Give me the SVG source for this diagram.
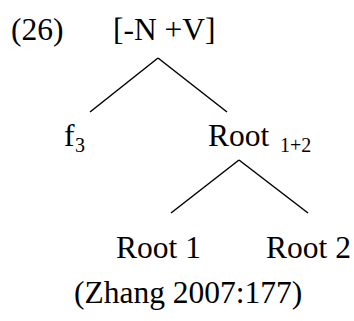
<svg xmlns="http://www.w3.org/2000/svg" width="354" height="321" viewBox="0 0 354 321">
<style>
text{font-family:"Liberation Serif","Times New Roman",serif;font-size:31.5px;fill:#000}
.sub{font-size:20px}
.edge{stroke:#000;stroke-width:1.5;fill:none}
</style>
<rect width="354" height="321" fill="#fff"/>
<g id="label26"><text x="11" y="40">(26)</text></g>
<g id="n-root"><text x="113" y="40">[-N +V]</text></g>
<g id="n-f3"><text x="64" y="146">f</text><text class="sub" x="75" y="152">3</text></g>
<g id="n-root12"><text x="208" y="146">Root</text><text class="sub" x="280" y="152">1+2</text></g>
<g id="n-root1"><text x="116" y="258">Root 1</text></g>
<g id="n-root2"><text x="266" y="258">Root 2</text></g>
<g id="caption"><text x="74" y="303">(Zhang 2007:177)</text></g>
<g id="connectors">
<line class="edge" x1="158" y1="58" x2="90" y2="112"/>
<line class="edge" x1="158" y1="58" x2="227" y2="112"/>
<line class="edge" x1="239" y1="160" x2="171" y2="213"/>
<line class="edge" x1="239" y1="160" x2="308" y2="213"/>
</g>
</svg>
